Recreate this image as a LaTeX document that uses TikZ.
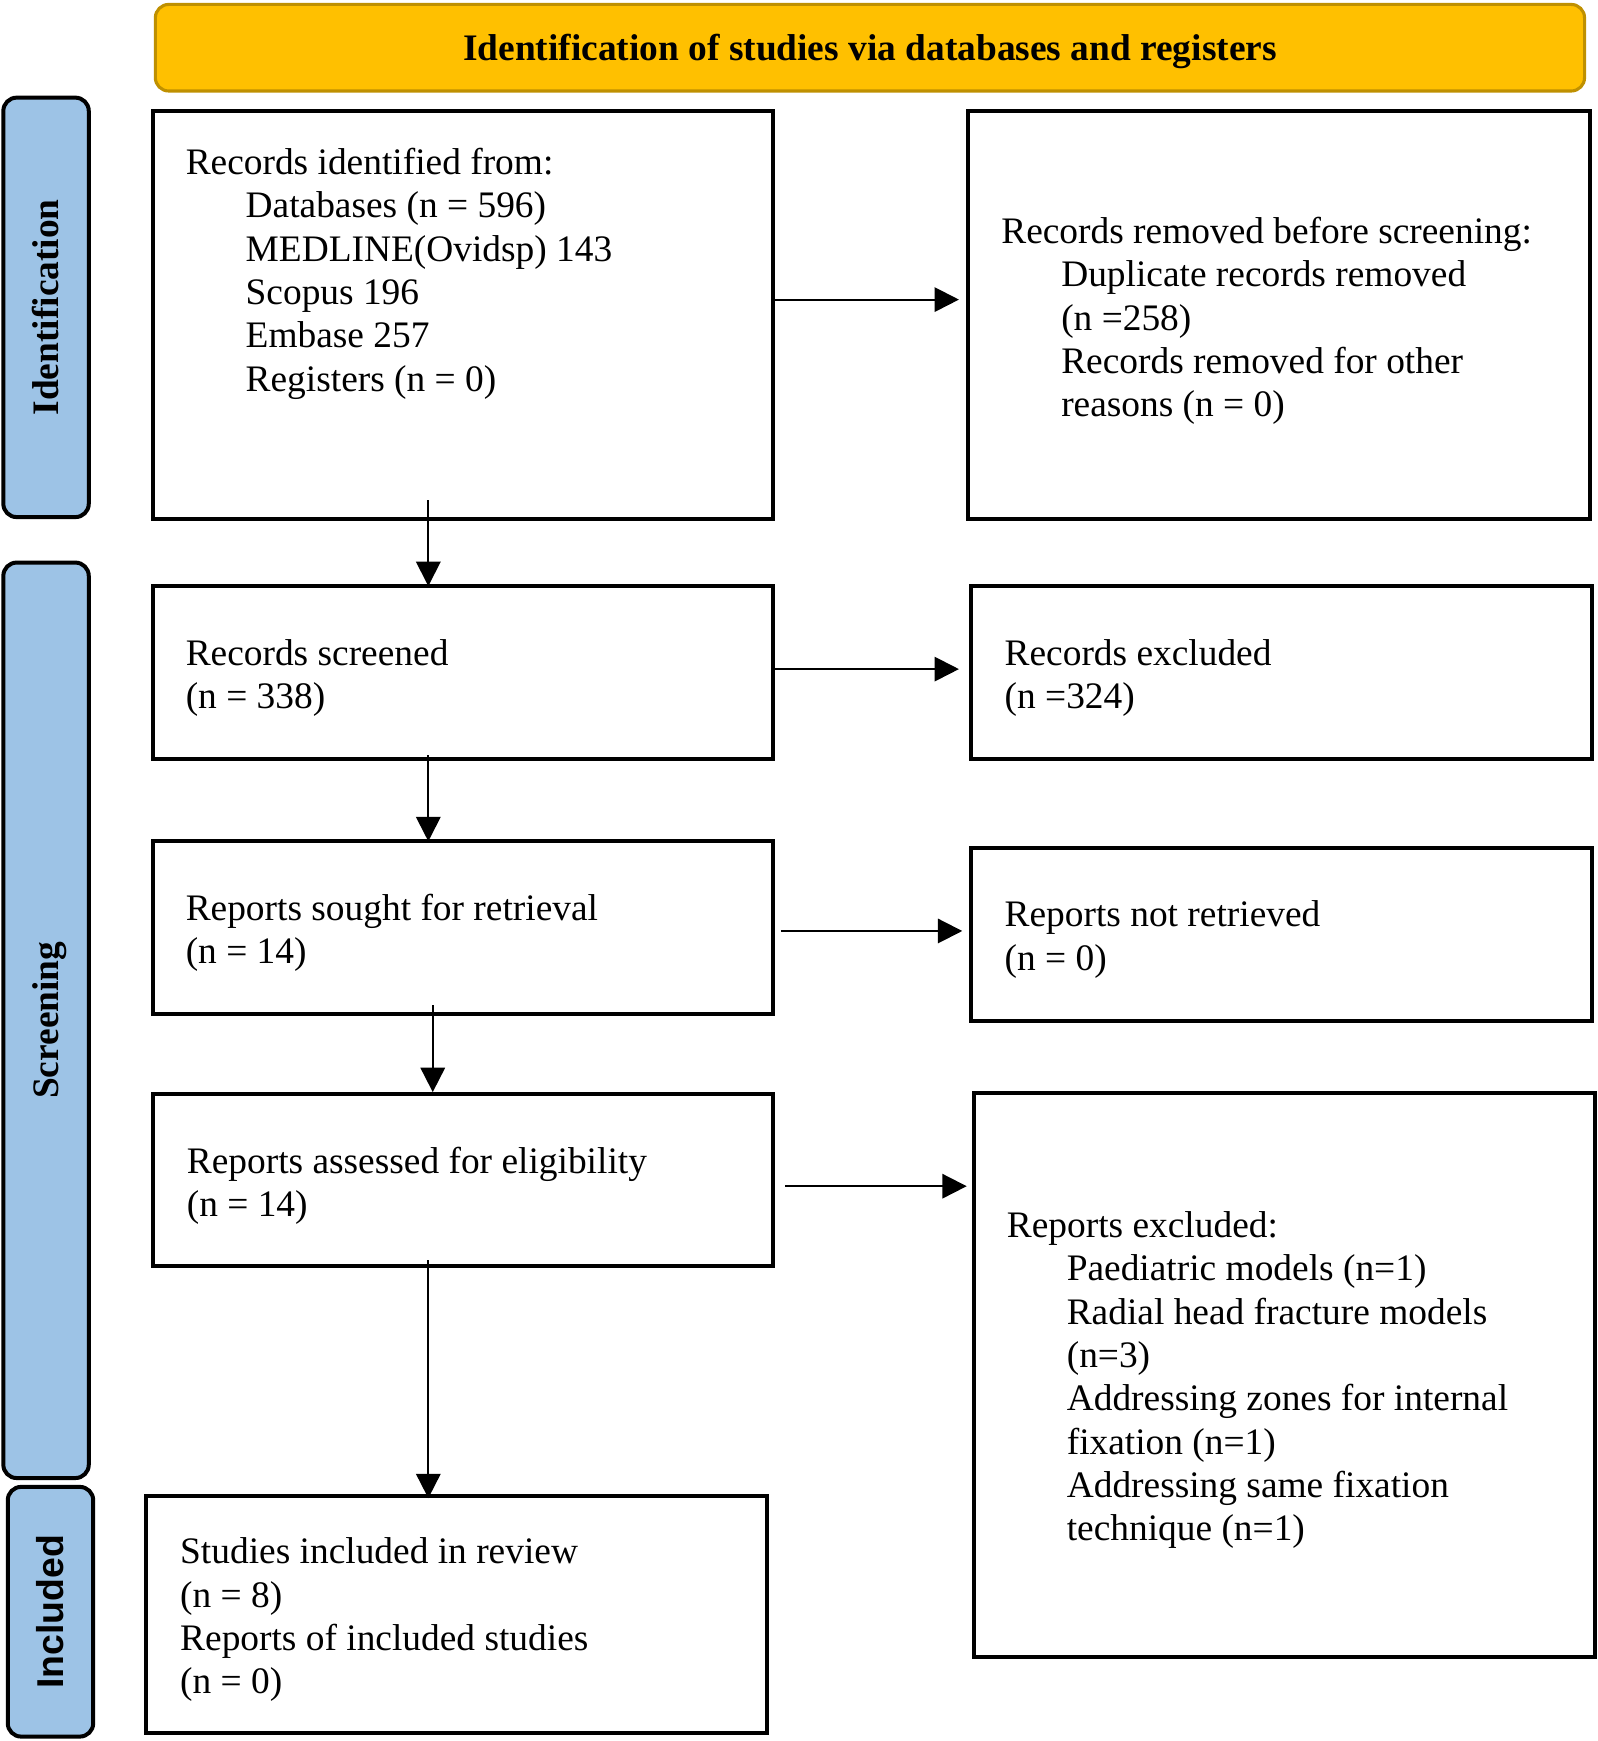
\documentclass[tikz,border=0pt]{standalone}
\usepackage{fontspec}
\setmainfont{Liberation Serif}
\newfontfamily\arialfont{Liberation Sans}
\usetikzlibrary{arrows.meta}
\definecolor{hdrfill}{HTML}{FFC000}
\definecolor{hdrdraw}{HTML}{BF9000}
\definecolor{barfill}{HTML}{9DC3E6}
\newcommand\fsz{\fontsize{16.85pt}{19.5pt}\selectfont}
\newcommand\fl{\rule{0pt}{16pt}}
\newcommand\ind{\hspace*{27pt}}
\begin{document}
\begin{tikzpicture}[x=0.5pt,y=-0.5pt,
  box/.style={draw=black,line width=1.8pt,inner sep=0pt,fill=white},
  bar/.style={draw=black,line width=1.8pt,fill=barfill,rounded corners=6pt,inner sep=0pt,rotate=90,font=\fsz\bfseries,text height=15pt,text depth=3.6pt},
  hdr/.style={draw=hdrdraw,line width=1.4pt,fill=hdrfill,rounded corners=6pt,inner sep=0pt,font=\fsz\bfseries,text height=15pt,text depth=3.6pt},
  txt/.style={anchor=north west,inner sep=0pt,align=left,font=\fsz},
  arr/.style={line width=0.9pt,-{Triangle[length=11pt,width=11pt]}}]
\useasboundingbox (0,0) rectangle (1440,1569);
% header
\node[hdr,minimum width=644pt,minimum height=39pt] (hdr) at (784,43) {Identification of studies via databases and registers};
% side bars
\node[bar,minimum width=189pt,minimum height=38.5pt] (barid) at (41.5,277) {Identification};
\node[bar,minimum width=412.5pt,minimum height=38.5pt] (barsc) at (41.5,919.5) {Screening};
\node[bar,minimum width=112.5pt,minimum height=38.5pt,font=\fsz\arialfont\bfseries] (barin) at (45.5,1452.5) {Included};
% boxes
\node[box,minimum width=279.5pt,minimum height=184pt] (b1) at (417.5,284) {};
\node[box,minimum width=280.5pt,minimum height=184pt] (r1) at (1152.5,284) {};
\node[box,minimum width=279.5pt,minimum height=78pt] (b2) at (417.5,606) {};
\node[box,minimum width=280pt,minimum height=78pt] (r2) at (1155,606) {};
\node[box,minimum width=279.5pt,minimum height=78pt] (b3) at (417.5,836) {};
\node[box,minimum width=280pt,minimum height=78pt] (r3) at (1155,842) {};
\node[box,minimum width=279.5pt,minimum height=77.5pt] (b4) at (417.5,1063.5) {};
\node[box,minimum width=279.5pt,minimum height=254pt] (r4) at (1157.5,1239) {};
\node[box,minimum width=279.5pt,minimum height=107pt] (b5) at (411.5,1455) {};
% texts
\node[txt] (b1t) at (167,125) {\fl Records identified from:\\ \ind Databases (n = 596)\\ \ind MEDLINE(Ovidsp) 143\\ \ind Scopus 196\\ \ind Embase 257\\ \ind Registers (n = 0)};
\node[txt] (r1t) at (902,187) {\fl Records removed before screening:\\ \ind Duplicate records removed\\ \ind (n =258)\\ \ind Records removed for other\\ \ind reasons (n = 0)};
\node[txt] (b2t) at (167,567) {\fl Records screened\\ (n = 338)};
\node[txt] (r2t) at (905,567) {\fl Records excluded\\ (n =324)};
\node[txt] (b3t) at (167,797) {\fl Reports sought for retrieval\\ (n = 14)};
\node[txt] (r3t) at (905,803) {\fl Reports not retrieved\\ (n = 0)};
\node[txt] (b4t) at (168,1025) {\fl Reports assessed for eligibility\\ (n = 14)};
\node[txt] (r4t) at (907,1083) {\fl Reports excluded:\\ \ind Paediatric models (n=1)\\ \ind Radial head fracture models\\ \ind (n=3)\\ \ind Addressing zones for internal\\ \ind fixation (n=1)\\ \ind Addressing same fixation\\ \ind technique (n=1)};
\node[txt] (b5t) at (162,1377) {\fl Studies included in review\\ (n = 8)\\ Reports of included studies\\ (n = 0)};
% connectors
\draw[arr] ([shift={(0,-14)}]b1.east) -- ([shift={(-6,-14)}]r1.west);
\draw[arr] ([shift={(0,-3)}]b2.east) -- ([shift={(-9,-3)}]r2.west);
\draw[arr] ([shift={(5,3)}]b3.east) -- ([shift={(-6,-3)}]r3.west);
\draw[arr] ([shift={(9,5.5)}]b4.east) -- ([shift={(-5,-170)}]r4.west);
\draw[arr] ([shift={(-31.5,-19)}]b1.south) -- ([shift={(-31.5,2)}]b2.north);
\draw[arr] ([shift={(-31.5,-5)}]b2.south) -- ([shift={(-31.5,2)}]b3.north);
\draw[arr] ([shift={(-27.5,-10)}]b3.south) -- ([shift={(-27.5,0)}]b4.north);
\draw[arr] ([shift={(-31.5,-7)}]b4.south) -- ([shift={(-25.5,4)}]b5.north);
\end{tikzpicture}
\end{document}
